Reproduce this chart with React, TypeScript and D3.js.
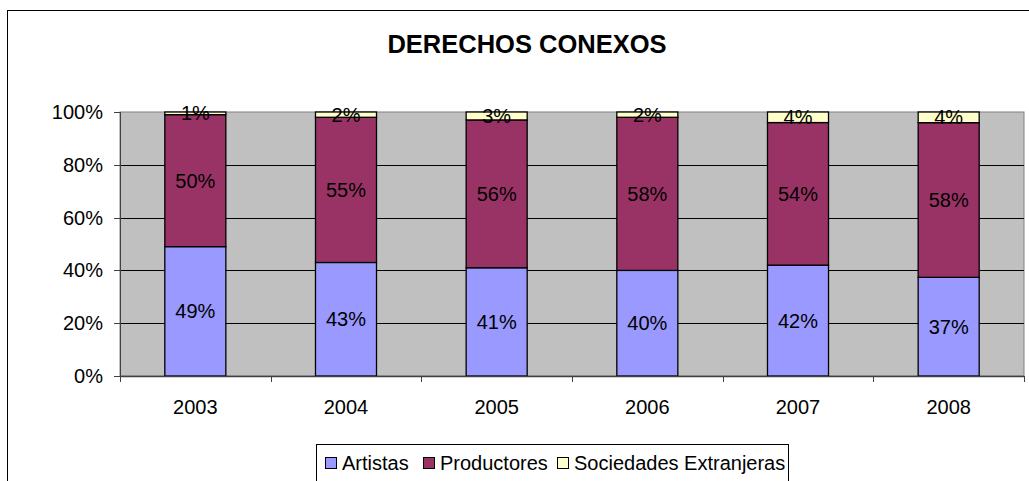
import React from "react";
import * as d3 from "d3";

const years = ["2003", "2004", "2005", "2006", "2007", "2008"];
const artistas = [49, 43, 41, 40, 42, 37];
const productores = [50, 55, 56, 58, 54, 58];
const sociedades = [1, 2, 3, 2, 4, 4];
const seriesNames = ["Artistas", "Productores", "Sociedades Extranjeras"];
const seriesColors = ["#9999FF", "#993366", "#FFFFCC"];
const yTicks = [0, 0.2, 0.4, 0.6, 0.8, 1];

const FONT = "Arial, 'Liberation Sans', sans-serif";
const FS = 20;

export default function App() {
  const left = 120, right = 1024, top = 112, bottom = 376;
  const rows = years.map((y, i) => ({
    year: y,
    Artistas: artistas[i],
    Productores: productores[i],
    "Sociedades Extranjeras": sociedades[i],
  }));
  const stacked = d3.stack<any>().keys(seriesNames).offset(d3.stackOffsetExpand)(rows);
  const x = d3.scaleBand().domain(years).range([left, right]).paddingInner(0.595).paddingOuter(0.2975);
  const y = d3.scaleLinear().domain([0, 1]).range([bottom, top]);
  const step = (right - left) / years.length;
  const fmt = d3.format(".0%");

  const legendItems = [
    { x: 325, tx: 342 },
    { x: 423, tx: 440 },
    { x: 557, tx: 574 },
  ];

  return (
    <div style={{ position: "absolute", left: 0, top: 0 }}>
      <svg width={1029} height={481} style={{ display: "block" }} fontFamily={FONT}>
        <rect x={0} y={0} width={1029} height={481} fill="#fff" />
        <rect x={7.5} y={10.5} width={1040} height={500} fill="#fff" stroke="#000" strokeWidth={1} />
        <text x={527} y={44} textAnchor="middle" dy="0.35em" fontSize={25.5} fontWeight="bold" fill="#000">
          DERECHOS CONEXOS
        </text>
        {/* plot area */}
        <rect x={left} y={top} width={right - left} height={bottom - top} fill="#C0C0C0" stroke="#808080" strokeWidth={1} />
        {yTicks.filter((t) => t > 0 && t < 1).map((t) => (
          <line key={t} x1={left} x2={right} y1={Math.round(y(t)) + 0.5} y2={Math.round(y(t)) + 0.5} stroke="#000" strokeWidth={1} />
        ))}
        {/* bars */}
        {stacked.map((s, si) =>
          s.map((d, i) => (
            <rect
              key={si + "-" + i}
              x={x(years[i])!}
              y={y(d[1])}
              width={x.bandwidth()}
              height={y(d[0]) - y(d[1])}
              fill={seriesColors[si]}
              stroke="#000"
              strokeWidth={1.3}
            />
          ))
        )}
        {stacked.map((s, si) =>
          s.map((d, i) => (
            <text
              key={"l" + si + "-" + i}
              x={x(years[i])! + x.bandwidth() / 2}
              y={(y(d[0]) + y(d[1])) / 2}
              dy="0.35em"
              textAnchor="middle"
              fontSize={FS}
              fill="#000"
            >
              {fmt((d.data as any)[seriesNames[si]] / 100)}
            </text>
          ))
        )}
        {/* axes */}
        <line x1={left + 0.5} x2={left + 0.5} y1={top} y2={bottom} stroke="#404040" strokeWidth={1} />
        <line x1={left} x2={right} y1={bottom + 0.5} y2={bottom + 0.5} stroke="#404040" strokeWidth={1.5} />
        {yTicks.map((t) => (
          <g key={"yt" + t}>
            <line x1={left - 6} x2={left} y1={Math.round(y(t)) + 0.5} y2={Math.round(y(t)) + 0.5} stroke="#404040" />
            <text x={103} y={y(t)} dy="0.35em" textAnchor="end" fontSize={FS} fill="#000">
              {fmt(t)}
            </text>
          </g>
        ))}
        {d3.range(years.length + 1).map((i) => (
          <line key={"xt" + i} x1={Math.round(left + i * step) + 0.5} x2={Math.round(left + i * step) + 0.5} y1={bottom} y2={bottom + 6} stroke="#404040" />
        ))}
        {years.map((yr) => (
          <text key={"xl" + yr} x={x(yr)! + x.bandwidth() / 2} y={407} dy="0.35em" textAnchor="middle" fontSize={FS} fill="#000">
            {yr}
          </text>
        ))}
        {/* legend */}
        <rect x={316.5} y={444.5} width={472} height={50} fill="#fff" stroke="#000" strokeWidth={1} />
        {seriesNames.map((n, i) => (
          <g key={"lg" + n}>
            <rect x={legendItems[i].x + 0.5} y={457.5} width={11} height={11} fill={seriesColors[i]} stroke="#000" strokeWidth={1} />
            <text x={legendItems[i].tx} y={463} dy="0.35em" fontSize={FS} fill="#000">
              {n}
            </text>
          </g>
        ))}
      </svg>
    </div>
  );
}
